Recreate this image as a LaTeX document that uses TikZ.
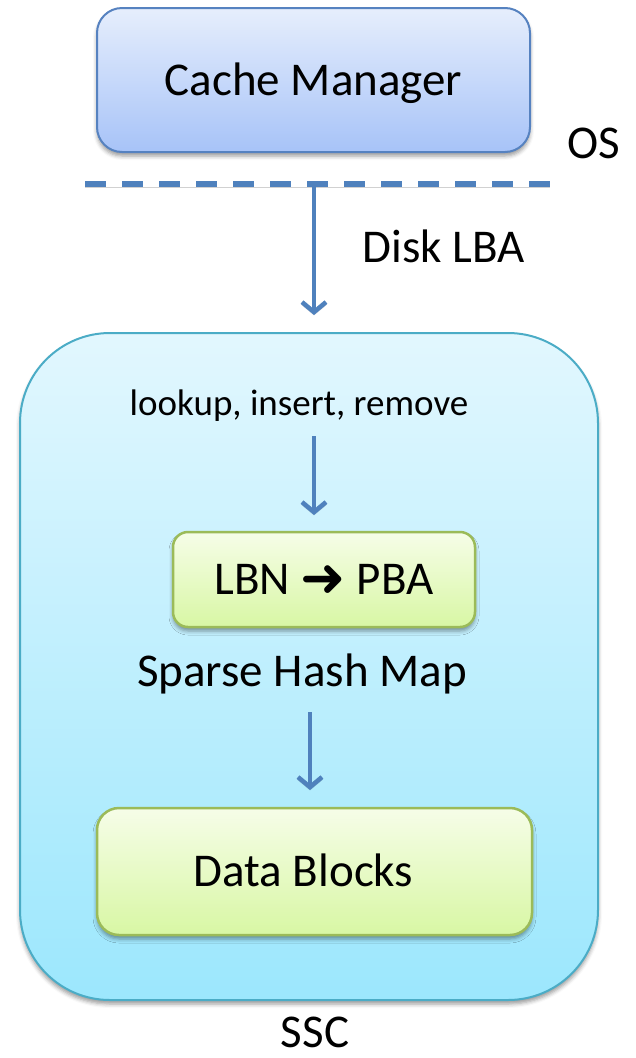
\documentclass[tikz,border=0pt]{standalone}
\usepackage{fontspec}
\setmainfont{Carlito}
\newfontfamily\arrowfont{DejaVu Sans}
\usetikzlibrary{arrows.meta,shadows.blur}

\definecolor{accent}{HTML}{4F81BD}
\definecolor{cmtop}{HTML}{E6EEFC}
\definecolor{cmbot}{HTML}{A7C3F8}
\definecolor{cmline}{HTML}{5682C0}
\definecolor{ssctop}{HTML}{E2F7FE}
\definecolor{sscbot}{HTML}{9CE7FD}
\definecolor{sscline}{HTML}{4BACC6}
\definecolor{grtop}{HTML}{F6FDE8}
\definecolor{grbot}{HTML}{D8F7A4}
\definecolor{grline}{HTML}{9BBB59}

% heavy arrow used inside the mapping label
\newcommand{\maparrow}{{\arrowfont\fontsize{54}{54}\selectfont\raisebox{-2pt}{➜}}}

\begin{document}
\begin{tikzpicture}[x=1pt,y=-1pt,
  boxshadow/.style={blur shadow={shadow xshift=0pt,shadow yshift=-4pt,
      shadow blur radius=4pt,shadow opacity=40}},
  bigtext/.style={font=\fontsize{47}{56}\selectfont},
  smalltext/.style={font=\fontsize{37}{44}\selectfont},
  caption/.style={bigtext,inner sep=0pt,outer sep=0pt,anchor=base},
  panel/.style={boxshadow,outer sep=0pt,inner sep=0pt,
      text height=30pt,text depth=0pt,bigtext},
  bluebox/.style={panel,rounded corners=25pt,draw=cmline,line width=2pt,
      top color=cmtop,bottom color=cmbot},
  greenbox/.style={panel,draw=grline,line width=2.5pt,
      top color=grtop,bottom color=grbot},
  ssczone/.style={boxshadow,rounded corners=90pt,draw=sscline,line width=2pt,
      top color=ssctop,bottom color=sscbot,outer sep=0pt},
  lineshadow/.style={preaction={draw=black,opacity=0.18,
      transform canvas={yshift=-3pt}}},
  flow/.style={lineshadow,draw=accent,line width=4.5pt,
      -{Straight Barb[length=10pt,width=24pt]}},
  osline/.style={lineshadow,draw=accent,line width=5.5pt,
      dash pattern=on 21pt off 16pt}]
\useasboundingbox (0,0) rectangle (636,1058);

% SSC region
\node[ssczone,minimum width=578pt,minimum height=667pt] (ssc) at (309,666.5) {};
\node[caption] (ssclabel) at (315,1047) {SSC};

% OS side
\node[bluebox,minimum width=433pt,minimum height=144pt] (cm) at (313.5,80) {Cache Manager};
\node[caption] (oslabel) at (594,158) {OS};

% OS / device boundary
\coordinate (bl) at (85,184);
\coordinate (br) at (550,184);
\draw[osline] (bl) -- (br);
\coordinate (tap) at (314,184);

\node[caption] (lba) at (444,262) {Disk LBA};
\draw[flow,shorten >=18pt] (tap) -- (tap |- ssc.north);

% hash map
\node[caption,smalltext] (ops) at (299,415) {lookup, insert, remove};
\node[greenbox,rounded corners=15pt,minimum width=302pt,minimum height=95pt]
  (map) at (324,579.5) {LBN \maparrow{} PBA};
\coordinate (opsout) at (314,436);
\draw[flow,shorten >=17pt] (opsout) -- (opsout |- map.north);

\node[caption] (maplabel) at (302,686) {Sparse Hash Map};

% data blocks
\node[greenbox,rounded corners=22pt,minimum width=435pt,minimum height=127pt]
  (data) at (314.5,871.5) {Data Blocks\hspace*{22pt}};
\coordinate (mapout) at (310,712);
\draw[flow,shorten >=18pt] (mapout) -- (mapout |- data.north);
\end{tikzpicture}
\end{document}
